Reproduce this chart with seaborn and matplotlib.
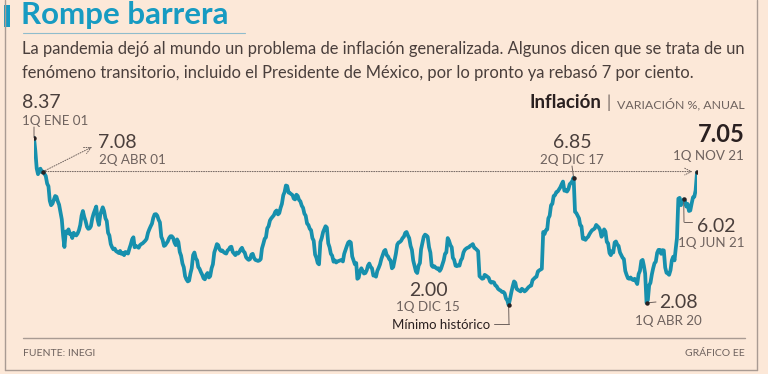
import pandas as pd
import matplotlib
matplotlib.use("Agg")
import matplotlib.pyplot as plt
import seaborn as sns

# Inflacion anual por quincena (1Q, 2Q de cada mes)
y2001 = [8.37, 7.88, 7.20, 6.98, 7.15, 7.19, 7.05, 7.08, 6.99, 6.91, 6.62, 6.52,
         5.97, 5.80, 5.86, 6.00, 6.15, 6.12, 5.95, 5.82, 5.52, 5.26, 4.65, 4.21]
y2002 = [4.80, 4.75, 4.88, 4.70, 4.72, 4.55, 4.75, 4.68, 4.65, 4.72, 4.85, 5.05,
         5.40, 5.58, 5.35, 5.20, 4.98, 4.90, 4.92, 5.00, 5.30, 5.48, 5.62, 5.75]
y2003 = [5.25, 5.05, 5.45, 5.60, 5.72, 5.58, 5.30, 5.20, 4.75, 4.65, 4.32, 4.20,
         4.12, 4.15, 4.05, 4.02, 3.98, 4.06, 3.95, 3.98, 3.90, 4.02, 4.00, 3.96]
y2004 = [4.15, 4.30, 4.50, 4.58, 4.20, 4.25, 4.22, 4.18, 4.28, 4.32, 4.35, 4.40,
         4.45, 4.52, 4.75, 4.88, 5.00, 5.10, 5.32, 5.45, 5.46, 5.40, 5.25, 5.15]
y2005 = [4.60, 4.48, 4.25, 4.28, 4.35, 4.42, 4.55, 4.62, 4.62, 4.56, 4.38, 4.28,
         4.50, 4.40, 4.02, 3.88, 3.58, 3.44, 3.10, 2.98, 2.90, 2.93, 3.20, 3.40]
y2006 = [3.90, 4.00, 3.78, 3.70, 3.45, 3.38, 3.25, 3.15, 3.02, 2.98, 3.15, 3.22,
         3.05, 3.10, 3.40, 3.55, 4.00, 4.15, 4.32, 4.28, 4.12, 4.06, 4.08, 4.02]
y2007 = [3.98, 3.96, 4.08, 4.12, 4.20, 4.22, 4.02, 3.96, 3.90, 4.00, 3.96, 4.02,
         4.12, 4.18, 4.05, 4.00, 3.82, 3.76, 3.72, 3.75, 3.92, 3.95, 3.80, 3.72]
y2008 = [3.70, 3.68, 3.70, 3.75, 4.15, 4.32, 4.52, 4.58, 4.92, 5.00, 5.22, 5.30,
         5.36, 5.42, 5.55, 5.60, 5.45, 5.50, 5.70, 5.85, 6.18, 6.30, 6.55, 6.53]
y2009 = [6.28, 6.26, 6.22, 6.18, 6.05, 6.02, 6.20, 6.15, 6.00, 5.95, 5.78, 5.70,
         5.48, 5.40, 5.10, 5.05, 4.90, 4.85, 4.55, 4.45, 3.92, 3.80, 3.60, 3.55]
y2010 = [4.40, 4.55, 4.78, 4.90, 5.00, 4.95, 4.35, 4.20, 3.95, 3.88, 3.65, 3.70,
         3.62, 3.66, 3.68, 3.70, 3.72, 3.66, 3.95, 4.10, 4.25, 4.38, 4.42, 4.38]
y2011 = [3.85, 3.70, 3.55, 3.60, 3.00, 3.04, 3.30, 3.40, 3.30, 3.20, 3.22, 3.32,
         3.50, 3.58, 3.45, 3.40, 3.12, 3.15, 3.08, 3.30, 3.42, 3.55, 3.75, 3.90]
y2012 = [4.05, 4.10, 3.90, 3.85, 3.75, 3.70, 3.40, 3.45, 3.70, 3.95, 4.30, 4.38,
         4.40, 4.45, 4.55, 4.60, 4.75, 4.78, 4.65, 4.55, 4.25, 4.10, 3.70, 3.50]
y2013 = [3.28, 3.22, 3.50, 3.60, 4.12, 4.35, 4.60, 4.68, 4.65, 4.60, 4.20, 4.00,
         3.50, 3.45, 3.48, 3.42, 3.38, 3.40, 3.30, 3.38, 3.55, 3.70, 3.95, 4.00]
y2014 = [4.55, 4.45, 4.28, 4.20, 3.80, 3.72, 3.50, 3.48, 3.52, 3.50, 3.70, 3.78,
         4.00, 4.10, 4.15, 4.18, 4.20, 4.25, 4.28, 4.32, 4.18, 4.15, 4.10, 4.05]
y2015 = [3.10, 3.05, 3.00, 3.02, 3.15, 3.12, 3.08, 3.04, 2.90, 2.85, 2.88, 2.86,
         2.75, 2.72, 2.62, 2.58, 2.55, 2.50, 2.50, 2.45, 2.25, 2.18, 2.00, 2.21]
y2016 = [2.48, 2.70, 2.90, 2.85, 2.62, 2.58, 2.55, 2.52, 2.62, 2.58, 2.52, 2.56,
         2.62, 2.68, 2.72, 2.74, 2.95, 3.00, 3.05, 3.08, 3.28, 3.32, 3.35, 3.38]
y2017 = [4.78, 4.70, 4.85, 4.88, 5.30, 5.40, 5.80, 5.85, 6.15, 6.18, 6.30, 6.32,
         6.40, 6.48, 6.60, 6.70, 6.35, 6.38, 6.32, 6.40, 6.60, 6.65, 6.72, 6.85]
y2018 = [5.55, 5.50, 5.40, 5.30, 5.05, 5.00, 4.52, 4.55, 4.48, 4.55, 4.60, 4.70,
         4.78, 4.85, 4.88, 4.92, 5.05, 5.00, 4.95, 4.85, 4.60, 4.70, 4.88, 4.80]
y2019 = [4.40, 4.35, 3.98, 3.90, 4.05, 4.00, 4.38, 4.42, 4.30, 4.25, 4.00, 3.90,
         3.80, 3.75, 3.30, 3.15, 3.02, 3.00, 3.05, 2.98, 2.95, 3.00, 2.90, 2.80]
y2020 = [3.18, 3.30, 3.68, 3.72, 3.50, 3.20, 2.08, 2.20, 2.75, 2.85, 3.17, 3.40,
         3.59, 3.65, 3.99, 4.10, 4.10, 3.95, 4.09, 4.08, 3.43, 3.23, 3.20, 3.15]
y2021 = [3.33, 3.70, 3.84, 3.70, 4.12, 4.55, 6.05, 6.08, 5.80, 5.95, 6.02, 5.95,
         5.75, 5.85, 5.58, 5.60, 5.87, 6.10, 6.12, 6.36, 7.05]

valores = (y2001 + y2002 + y2003 + y2004 + y2005 + y2006 + y2007 + y2008 + y2009
           + y2010 + y2011 + y2012 + y2013 + y2014 + y2015 + y2016 + y2017
           + y2018 + y2019 + y2020 + y2021)
fechas = [pd.Timestamp(a, m, d) for a in range(2001, 2022)
          for m in range(1, 13) for d in (1, 16)][:len(valores)]
df = pd.DataFrame({"fecha": fechas, "inflacion": valores})

# puntos senalados: (fecha, valor, etiqueta)
p_ini = (pd.Timestamp(2001, 1, 1), "8.37", "1Q ENE 01")
p_abr01 = (pd.Timestamp(2001, 4, 16), "7.08", "2Q ABR 01")
p_min = (pd.Timestamp(2015, 12, 1), "2.00", "1Q DIC 15")
p_dic17 = (pd.Timestamp(2017, 12, 16), "6.85", "2Q DIC 17")
p_abr20 = (pd.Timestamp(2020, 4, 1), "2.08", "1Q ABR 20")
p_jun21 = (pd.Timestamp(2021, 6, 1), "6.02", "1Q JUN 21")
p_nov21 = (pd.Timestamp(2021, 11, 1), "7.05", "1Q NOV 21")

FONDO = "#fce8d8"
AZUL = "#1790ad"
TITULO = "#179bc2"
TEXTO = "#4a3f3c"
GRIS = "#6e625e"
LINEA = "#a99b93"

sns.set_theme(style="white")
plt.rcParams["font.family"] = ["Lato", "DejaVu Sans"]

W, H = 768, 374
fig = plt.figure(figsize=(W / 100, H / 100), dpi=100, facecolor=FONDO)


def fp(x, y):
    # pixel desde arriba-izquierda -> figure pixels
    return (x, H - y)


def ftxt(x, y, s, **kw):
    fig.text(x / W, 1 - y / H, s, **kw)


def hline(x0, x1, y, **kw):
    fig.add_artist(plt.Line2D([x0 / W, x1 / W], [1 - y / H] * 2, **kw))


ax = fig.add_axes([34 / W, 60 / H, (697 - 34) / W, (245 - 60) / H])
ax.set_facecolor(FONDO)
sns.lineplot(data=df, x="fecha", y="inflacion", color=AZUL, linewidth=2.7, ax=ax)
ax.set_xlim(df["fecha"].iloc[0], df["fecha"].iloc[-1])
ax.set_ylim(1.66, 8.70)
ax.axis("off")


def val(p):
    return df.loc[df["fecha"] == p[0], "inflacion"].iloc[0]


for p in [p_ini, p_abr01, p_min, p_dic17, p_abr20, p_jun21, p_nov21]:
    ax.plot(p[0], val(p), "o", ms=2.2, color="#2a2020", zorder=5)

conn = dict(arrowstyle="-", color=GRIS, lw=0.7, shrinkA=0, shrinkB=0)
dots = dict(arrowstyle="->", color=GRIS, lw=0.7, ls=(0, (1, 1.5)),
            shrinkA=0, shrinkB=0)


def link(pt, x, y, props):
    ax.annotate("", xy=fp(x, y), xycoords="figure pixels",
                xytext=(pt[0], val(pt)), textcoords="data", arrowprops=props)


# linea punteada a 7.08 hasta el ultimo dato
ax.annotate("", xy=(pd.Timestamp(2021, 9, 10), float(p_abr01[1])),
            xytext=(p_abr01[0], val(p_abr01)), arrowprops=dots)
link(p_abr01, 92, 147, dots)

# conectores
link(p_ini, 34, 127, conn)
link(p_dic17, 572, 166, conn)
link(p_abr20, 656, 302, conn)
link(p_jun21, 684, 222, conn)
hline(684, 692, 222, color=GRIS, lw=0.7)
link(p_min, 509, 324, conn)
hline(494, 509, 324, color=GRIS, lw=0.7)

# etiquetas de puntos
big = dict(fontsize=14, color=TEXTO, va="center")
small = dict(fontsize=9.6, color=GRIS, va="center")
ftxt(22, 103, p_ini[1], ha="left", **big)
ftxt(22, 121, p_ini[2], ha="left", **small)
ftxt(98, 143, p_abr01[1], ha="left", **big)
ftxt(99, 160, p_abr01[2], ha="left", **small)
ftxt(572, 143, p_dic17[1], ha="center", **big)
ftxt(572, 160, p_dic17[2], ha="center", **small)
ftxt(745, 134, p_nov21[1], ha="right", fontsize=17, fontweight="bold",
     color="#2a2020", va="center")
ftxt(744, 156, p_nov21[2], ha="right", **small)
ftxt(697, 226, p_jun21[1], ha="left", **big)
ftxt(744, 243, p_jun21[2], ha="right", **small)
ftxt(659, 302, p_abr20[1], ha="left", **big)
ftxt(668, 321, p_abr20[2], ha="center", **small)
ftxt(428, 290, p_min[1], ha="center", **big)
ftxt(428, 307, p_min[2], ha="center", **small)
ftxt(490, 325, "Mínimo histórico", ha="right", va="center", fontsize=9.5,
     color="#2a2020")

# encabezado
fig.add_artist(plt.Rectangle((4 / W, 1 - 27 / H), 6 / W, 22 / H,
                             color=TITULO, lw=0))
ftxt(21, 15, "Rompe barrera", ha="left", va="center", fontsize=22.5,
     fontweight="bold", color=TITULO)
hline(23, 245, 33, color="#8fbccc", lw=0.8)
ftxt(22, 49, "La pandemia dejó al mundo un problema de inflación generalizada. "
     "Algunos dicen que se trata de un", ha="left", va="center", fontsize=11.9,
     color=TEXTO)
ftxt(22, 73, "fenómeno transitorio, incluido el Presidente de México, por lo "
     "pronto ya rebasó 7 por ciento.", ha="left", va="center", fontsize=11.9,
     color=TEXTO)
ftxt(601, 103, "Inflación", ha="right", va="center", fontsize=13.5,
     fontweight="bold", color="#2a2020")
ftxt(606, 103, "|", ha="left", va="center", fontsize=12, color=GRIS)
ftxt(745, 104, "VARIACIÓN %, ANUAL", ha="right", va="center", fontsize=8.9,
     color=GRIS)

# pie y marco
hline(23, 745, 338, color=LINEA, lw=1)
ftxt(23, 354, "FUENTE: INEGI", ha="left", va="center", fontsize=7.5, color=GRIS)
ftxt(745, 354, "GRÁFICO EE", ha="right", va="center", fontsize=7.5, color=GRIS)
fig.add_artist(plt.Line2D([5 / W, 5 / W], [1 - 370 / H, 1], color=LINEA, lw=1))
fig.add_artist(plt.Line2D([757 / W, 757 / W], [1 - 370 / H, 1], color=LINEA, lw=1))
hline(5, 757, 370, color=LINEA, lw=1)

fig.savefig("out.png", dpi=100, facecolor=FONDO)
